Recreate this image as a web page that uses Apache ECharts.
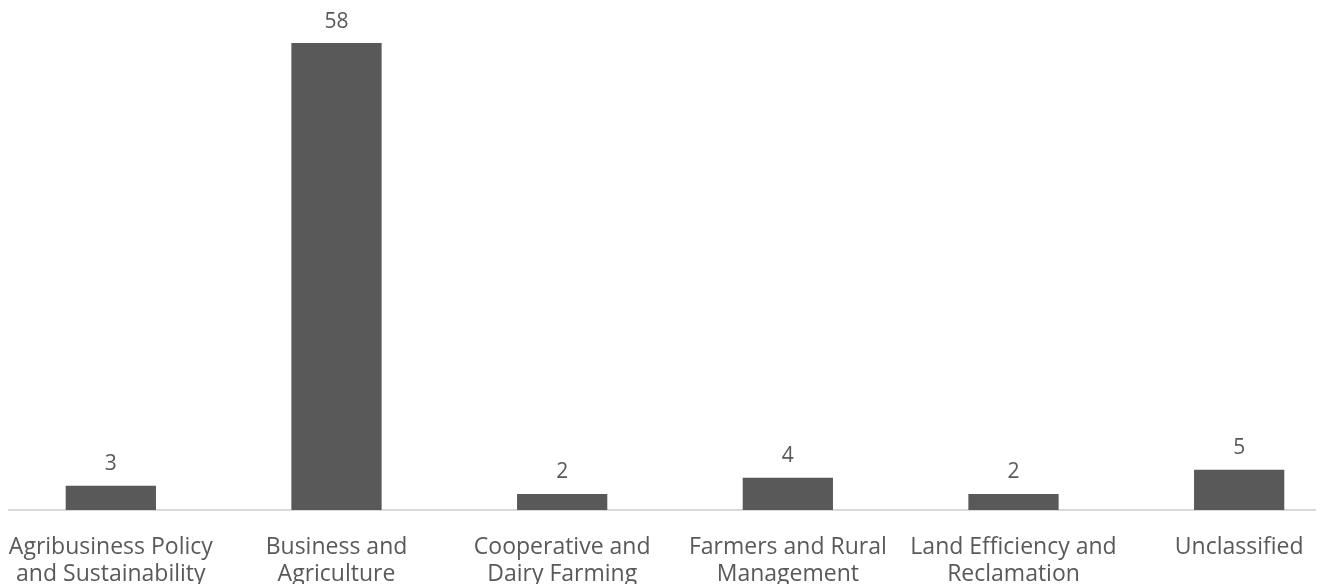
<!DOCTYPE html>
<html>
<head>
<meta charset="utf-8">
<script src="https://cdn.jsdelivr.net/npm/echarts@6/dist/echarts.min.js"></script>
<style>
  html, body { margin: 0; padding: 0; background: #fff; }
  #bar-chart { width: 1325px; height: 584px; }
</style>
</head>
<body>
<div id="bar-chart"></div>
<script>
var categories = [
  'Agribusiness Policy\nand Sustainability',
  'Business and\nAgriculture',
  'Cooperative and\nDairy Farming',
  'Farmers and Rural\nManagement',
  'Land Efficiency and\nReclamation',
  'Unclassified'
];
var counts = [3, 58, 2, 4, 2, 5];

var chartDom = document.getElementById('bar-chart');
var bars = echarts.init(chartDom);
var option;

option = {
  animation: false,
  textStyle: { fontFamily: 'Open Sans' },
  grid: {
    left: -2,
    right: -27,
    top: 27,
    bottom: 74,
    outerBoundsMode: 'none'
  },
  xAxis: {
    type: 'category',
    data: categories,
    axisLine: { show: false },
    axisTick: { show: false },
    axisLabel: {
      interval: 0,
      margin: 24,
      color: '#595959',
      fontSize: 23,
      lineHeight: 27,
      fontFamily: 'Open Sans'
    }
  },
  yAxis: {
    type: 'value',
    min: 0,
    max: 60,
    show: false,
    splitLine: { show: false }
  },
  // axis line only spans the plot area in the original
  graphic: [
    {
      type: 'line',
      shape: { x1: 8, y1: 510, x2: 1316, y2: 510 },
      style: { stroke: '#d9d9d9', lineWidth: 2 }
    }
  ],
  series: [
    {
      type: 'bar',
      data: counts,
      barWidth: '40%',
      itemStyle: { color: '#595959' },
      label: {
        show: true,
        position: 'top',
        distance: 11,
        color: '#595959',
        fontSize: 21,
        fontFamily: 'Open Sans'
      }
    }
  ]
};
option && bars.setOption(option);
</script>
</body>
</html>
